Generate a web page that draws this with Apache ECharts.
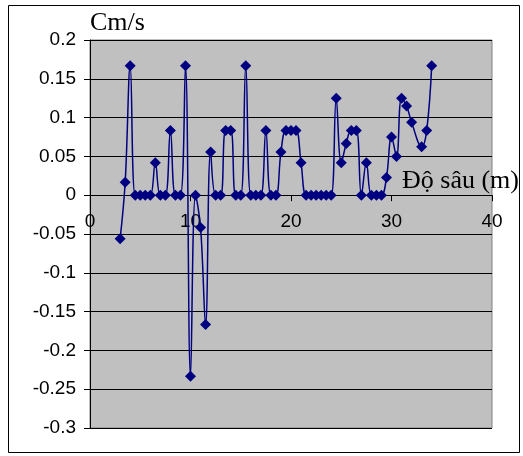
<!DOCTYPE html>
<html>
<head>
<meta charset="utf-8">
<script src="https://cdn.jsdelivr.net/npm/echarts@6/dist/echarts.min.js"></script>
<style>
  html, body { margin: 0; padding: 0; background: #fff; }
  #chart { width: 523px; height: 456px; }
</style>
</head>
<body>
<div id="chart"></div>
<script>
// Depth (m) of each measurement
const depth = [
  3, 3.5, 4, 4.5, 5, 5.5, 6, 6.5, 7, 7.5,
  8, 8.5, 9, 9.5, 10, 10.5, 11, 11.5, 12, 12.5,
  13, 13.5, 14, 14.5, 15, 15.5, 16, 16.5, 17, 17.5,
  18, 18.5, 19, 19.5, 20, 20.5, 21, 21.5, 22, 22.5,
  23, 23.5, 24, 24.5, 25, 25.5, 26, 26.5, 27, 27.5,
  28, 28.5, 29, 29.5, 30, 30.5, 31, 31.5, 32, 33,
  33.5, 34
];
// Velocity (cm/s) at each depth
const velocity = [
  -0.056, 0.0167, 0.1667, 0, 0, 0, 0, 0.0417, 0, 0,
  0.0833, 0, 0, 0.1667, -0.2333, 0, -0.0417, -0.1667, 0.0556, 0,
  0, 0.0833, 0.0833, 0, 0, 0.1667, 0, 0, 0, 0.0833,
  0, 0, 0.0556, 0.0833, 0.0833, 0.0833, 0.0417, 0, 0, 0,
  0, 0, 0, 0.125, 0.0417, 0.0667, 0.0833, 0.0833, 0, 0.0417,
  0, 0, 0, 0.0227, 0.075, 0.05, 0.125, 0.115, 0.094, 0.0625,
  0.0833, 0.1667
];
const xTicks = { min: 0, max: 40, step: 10 };
const yTicks = { min: -0.3, max: 0.2, step: 0.05 };

const points = depth.map((d, i) => [d, velocity[i]]);

// Plot box
const plot = { left: 90, top: 40, right: 31, bottom: 28, height: 456 - 40 - 28 };
// Height of the part of the plot above the zero line, so the depth labels sit under it
const upperHeight = plot.height * (yTicks.max - 0) / (yTicks.max - yTicks.min);

const labelFont = { color: '#000', fontFamily: 'Liberation Sans, Arial, sans-serif', fontSize: 19 };

const chart = echarts.init(document.getElementById('chart'), null, { renderer: 'canvas' });
chart.setOption({
  backgroundColor: '#ffffff',
  animation: false,
  grid: [
    {
      left: plot.left, right: plot.right, top: plot.top, bottom: plot.bottom,
      show: true, backgroundColor: '#c0c0c0', borderColor: '#808080', borderWidth: 1
    },
    {
      left: plot.left, right: plot.right, top: plot.top, height: upperHeight, show: false
    }
  ],
  xAxis: [
    {
      gridIndex: 0, type: 'value',
      min: xTicks.min, max: xTicks.max, interval: xTicks.step,
      axisLine: { onZero: true, lineStyle: { color: '#000', width: 1 } },
      axisTick: { show: true, inside: false, length: 6, lineStyle: { color: '#000' } },
      axisLabel: { show: false },
      splitLine: { show: false }
    },
    {
      gridIndex: 1, type: 'value', position: 'bottom',
      min: xTicks.min, max: xTicks.max, interval: xTicks.step,
      axisLine: { show: false, onZero: false },
      axisTick: { show: false },
      axisLabel: Object.assign({ margin: 17, showMinLabel: true, showMaxLabel: true }, labelFont),
      splitLine: { show: false }
    }
  ],
  yAxis: [
    {
      gridIndex: 0, type: 'value',
      min: yTicks.min, max: yTicks.max, interval: yTicks.step,
      axisLine: { show: true, onZero: false, lineStyle: { color: '#000', width: 1 } },
      axisTick: { show: true, length: 6, lineStyle: { color: '#000' } },
      axisLabel: Object.assign({
        margin: 14,
        formatter: v => String(parseFloat(v.toFixed(2)))
      }, labelFont),
      splitLine: { show: true, lineStyle: { color: '#000', width: 1 } }
    },
    {
      gridIndex: 1, type: 'value', min: 0, max: yTicks.max, show: false
    }
  ],
  series: [{
    type: 'line',
    xAxisIndex: 0, yAxisIndex: 0,
    data: points,
    smooth: 0.4,
    symbol: 'diamond',
    symbolSize: 11,
    showAllSymbol: true,
    lineStyle: { color: '#000080', width: 1.5 },
    itemStyle: { color: '#000080' }
  }],
  graphic: [
    {
      type: 'rect', silent: true, z: -1,
      shape: { x: 8.5, y: 5.5, width: 511, height: 447 },
      style: { fill: 'none', stroke: '#000', lineWidth: 1 }
    },
    {
      type: 'text', left: 90, top: 10,
      style: { text: 'Cm/s', font: '26px "Liberation Serif", "Times New Roman", serif', fill: '#000' }
    },
    {
      type: 'text', left: 402, top: 168, z: 100,
      style: { text: 'Độ sâu (m)', font: '26px "Liberation Serif", "Times New Roman", serif', fill: '#000' }
    }
  ]
});
</script>
</body>
</html>
